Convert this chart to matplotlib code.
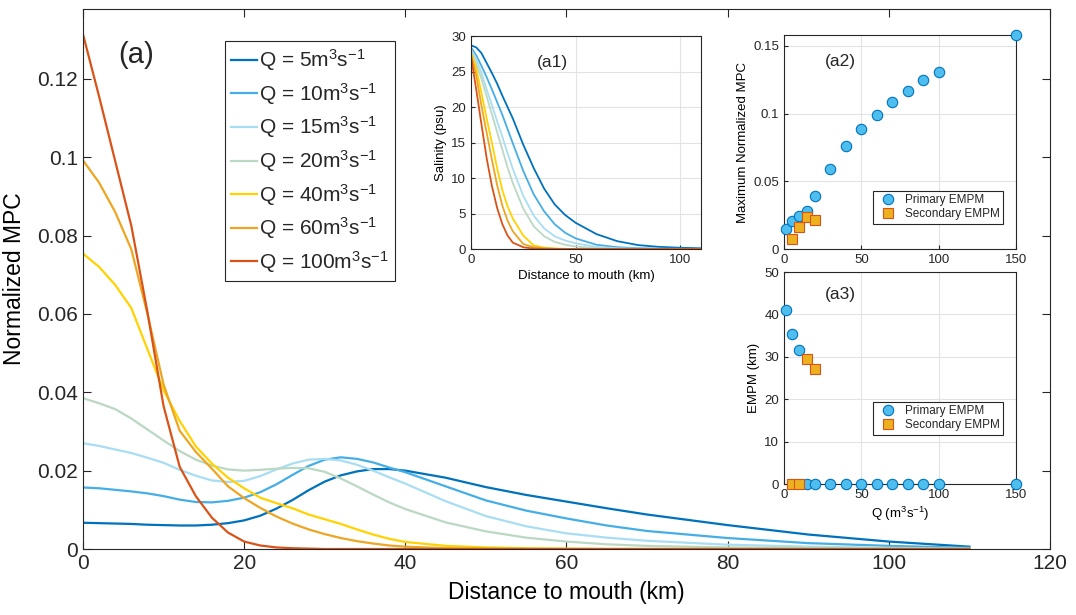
import numpy as np
import matplotlib
matplotlib.use('Agg')
import matplotlib.pyplot as plt

plt.rcParams['font.family'] = ['Liberation Sans', 'DejaVu Sans']
plt.rcParams['mathtext.default'] = 'regular'
plt.rcParams['axes.edgecolor'] = '#262626'
plt.rcParams['xtick.color'] = '#262626'
plt.rcParams['ytick.color'] = '#262626'
plt.rcParams['text.color'] = '#262626'

# ---- main panel: normalized MPC vs distance ----
dist = [0, 2, 4, 6, 8, 10, 12, 14, 16, 18, 20, 22, 24, 26, 28, 30, 32, 34, 36, 38, 40,
        45, 50, 55, 60, 65, 70, 80, 90, 100, 110]
mpc_q5 = [0.0067, 0.0066, 0.0065, 0.0064, 0.0062, 0.0061, 0.0060, 0.0060, 0.0062, 0.0066, 0.0073,
          0.0085, 0.0103, 0.0125, 0.0150, 0.0172, 0.0188, 0.0198, 0.0204, 0.0204, 0.0200,
          0.0182, 0.0158, 0.0138, 0.0121, 0.0104, 0.0088, 0.0061, 0.0037, 0.0019, 0.0006]
mpc_q10 = [0.0157, 0.0155, 0.0151, 0.0147, 0.0142, 0.0135, 0.0126, 0.0120, 0.0119, 0.0123, 0.0131,
           0.0145, 0.0165, 0.0189, 0.0212, 0.0228, 0.0234, 0.0230, 0.0221, 0.0208, 0.0196,
           0.0160, 0.0124, 0.0098, 0.0078, 0.0060, 0.0046, 0.0028, 0.0015, 0.0008, 0.0003]
mpc_q15 = [0.0270, 0.0263, 0.0254, 0.0245, 0.0233, 0.0220, 0.0202, 0.0187, 0.0175, 0.0171, 0.0174,
           0.0186, 0.0203, 0.0218, 0.0228, 0.0230, 0.0226, 0.0215, 0.0200, 0.0183, 0.0167,
           0.0122, 0.0084, 0.0058, 0.0040, 0.0029, 0.0021, 0.0011, 0.0006, 0.0003, 0.0001]
mpc_q20 = [0.0385, 0.0372, 0.0357, 0.0333, 0.0305, 0.0277, 0.0250, 0.0228, 0.0213, 0.0203, 0.0200,
           0.0202, 0.0205, 0.0207, 0.0206, 0.0197, 0.0180, 0.0160, 0.0139, 0.0119, 0.0102,
           0.0068, 0.0045, 0.0029, 0.0019, 0.0012, 0.0008, 0.0004, 0.0002, 0.0001, 0.0]
mpc_q40 = [0.0754, 0.0720, 0.0674, 0.0615, 0.0510, 0.0405, 0.0327, 0.0262, 0.0218, 0.0182, 0.0155,
           0.0131, 0.0117, 0.0104, 0.0088, 0.0076, 0.0064, 0.0050, 0.0037, 0.0026, 0.0018,
           0.0008, 0.0004, 0.0002, 0.0001, 0.0, 0.0, 0.0, 0.0, 0.0, 0.0]
mpc_q60 = [0.0992, 0.0935, 0.0860, 0.0765, 0.0600, 0.0420, 0.0302, 0.0248, 0.0205, 0.0160, 0.0130,
           0.0105, 0.0083, 0.0065, 0.0050, 0.0038, 0.0028, 0.0020, 0.0014, 0.0009, 0.0006,
           0.0002, 0.0001, 0.0, 0.0, 0.0, 0.0, 0.0, 0.0, 0.0, 0.0]
mpc_q100 = [0.1314, 0.1155, 0.0990, 0.0825, 0.0605, 0.0365, 0.0210, 0.0135, 0.0080, 0.0042, 0.0019,
            0.0009, 0.0004, 0.0002, 0.0001, 0.0, 0.0, 0.0, 0.0, 0.0, 0.0,
            0.0, 0.0, 0.0, 0.0, 0.0, 0.0, 0.0, 0.0, 0.0, 0.0]

q_labels = ['5', '10', '15', '20', '40', '60', '100']
colors = ['#0072BD', '#45AEE6', '#A8DDF3', '#BAD8C2', '#FFD200', '#EDA622', '#D95319']
mpc_all = [mpc_q5, mpc_q10, mpc_q15, mpc_q20, mpc_q40, mpc_q60, mpc_q100]

# ---- inset a1: salinity ----
dist_s = [0, 2.5, 5, 7.5, 10, 12.5, 15, 17.5, 20, 25, 30, 35, 40, 45, 50, 60, 70, 80, 90, 100, 110]
sal_q5 = [28.7, 28.4, 27.6, 26.2, 24.8, 23.3, 21.6, 20.0, 18.4, 14.7, 11.4, 8.5, 6.3, 4.8, 3.7,
          2.1, 1.1, 0.55, 0.3, 0.18, 0.1]
sal_q10 = [28.4, 27.3, 25.8, 24.2, 22.5, 20.7, 18.9, 16.9, 14.9, 11.0, 7.7, 5.3, 3.5, 2.3, 1.5,
           0.6, 0.25, 0.12, 0.06, 0.03, 0.02]
sal_q15 = [28.1, 26.8, 24.8, 22.5, 20.3, 18.0, 15.8, 13.5, 11.3, 7.5, 4.7, 2.9, 1.8, 1.2, 0.8,
           0.3, 0.1, 0.05, 0.02, 0.01, 0.0]
sal_q20 = [27.9, 26.1, 24.0, 21.5, 19.0, 16.5, 14.0, 11.5, 9.3, 5.7, 3.2, 1.8, 1.0, 0.6, 0.35,
           0.1, 0.03, 0.0, 0.0, 0.0, 0.0]
sal_q40 = [27.65, 25.5, 22.0, 18.4, 15.0, 11.4, 8.3, 6.0, 4.3, 1.9, 0.5, 0.2, 0.08, 0.03, 0.0,
           0.0, 0.0, 0.0, 0.0, 0.0, 0.0]
sal_q60 = [27.5, 24.5, 20.2, 16.4, 12.6, 9.0, 6.1, 4.0, 2.5, 0.7, 0.25, 0.1, 0.03, 0.0, 0.0,
           0.0, 0.0, 0.0, 0.0, 0.0, 0.0]
sal_q100 = [27.2, 22.5, 17.6, 12.8, 8.9, 5.8, 3.5, 1.9, 0.9, 0.25, 0.05, 0.0, 0.0, 0.0, 0.0,
            0.0, 0.0, 0.0, 0.0, 0.0, 0.0]
sal_all = [sal_q5, sal_q10, sal_q15, sal_q20, sal_q40, sal_q60, sal_q100]

# ---- inset a2/a3: EMPM ----
q_prim = [1, 5, 10, 15, 20, 30, 40, 50, 60, 70, 80, 90, 100, 150]
maxmpc_prim = [0.0150, 0.0209, 0.0241, 0.0278, 0.0389, 0.0593, 0.0757, 0.0885, 0.0993,
               0.1089, 0.1170, 0.1247, 0.1310, 0.1580]
empm_prim = [41.0, 35.4, 31.5, 0, 0, 0, 0, 0, 0, 0, 0, 0, 0, 0]
q_sec = [5, 10, 15, 20]
maxmpc_sec = [0.0071, 0.0162, 0.0234, 0.0211]
empm_sec = [0, 0, 29.4, 27.2]

fig = plt.figure(figsize=(10.76, 6.15), dpi=100)

ax = fig.add_axes([0.0771, 0.1073, 0.8987, 0.878])
for i in range(len(mpc_all)):
    ax.plot(dist, mpc_all[i], color=colors[i], lw=1.6,
            label='Q = ' + q_labels[i] + 'm$^{3}$s$^{-1}$')
ax.set_xlim(0, 120)
ax.set_ylim(0, 0.1378)
ax.set_xticks([0, 20, 40, 60, 80, 100, 120])
ax.set_yticks([0, 0.02, 0.04, 0.06, 0.08, 0.1, 0.12])
ax.set_yticklabels(['0', '0.02', '0.04', '0.06', '0.08', '0.1', '0.12'])
ax.tick_params(direction='in', top=True, right=True, labelsize=15, length=6, width=0.8)
ax.set_xlabel('Distance to mouth (km)', fontsize=16.5, labelpad=6)
ax.set_ylabel('Normalized MPC', fontsize=16.5, labelpad=8)
ax.text(0.037, 0.915, '(a)', transform=ax.transAxes, fontsize=21, va='center', ha='left')
leg = ax.legend(loc='upper left', bbox_to_anchor=(0.147, 0.9407), fontsize=15,
                handlelength=1.25, handletextpad=0.1, labelspacing=0.37,
                borderpad=0.3, fancybox=False, framealpha=1, borderaxespad=0)
leg.get_frame().set_edgecolor('#262626')
leg.get_frame().set_linewidth(0.8)

# inset a1
a1 = fig.add_axes([0.4377, 0.5951, 0.2138, 0.3463])
for i in range(len(sal_all)):
    a1.plot(dist_s, sal_all[i], color=colors[i], lw=1.3)
a1.set_xlim(0, 110)
a1.set_ylim(0, 30)
a1.set_xticks([0, 50, 100])
a1.set_yticks([0, 5, 10, 15, 20, 25, 30])
a1.grid(True, color='#e3e3e3', lw=0.8)
a1.set_axisbelow(True)
a1.tick_params(direction='in', labelsize=9.5, length=3, top=False, right=False)
a1.set_xlabel('Distance to mouth (km)', fontsize=9.5, labelpad=3)
a1.set_ylabel('Salinity (psu)', fontsize=9.5, labelpad=3)
a1.text(39, 26.3, '(a1)', fontsize=12.5, ha='center', va='center')

# inset a2
a2 = fig.add_axes([0.7286, 0.5951, 0.2156, 0.348])
a2.plot(q_prim, maxmpc_prim, 'o', ms=7.5, mfc='#4DBEEE', mec='#0072BD', mew=0.8,
        label='Primary EMPM', clip_on=False, zorder=3)
a2.plot(q_sec, maxmpc_sec, 's', ms=6.5, mfc='#EDB120', mec='#D95319', mew=0.8,
        label='Secondary EMPM', clip_on=False, zorder=3)
a2.set_xlim(0, 150)
a2.set_ylim(0, 0.158)
a2.set_xticks([0, 50, 100, 150])
a2.set_yticks([0, 0.05, 0.1, 0.15])
a2.set_yticklabels(['0', '0.05', '0.1', '0.15'])
a2.grid(True, color='#e3e3e3', lw=0.8)
a2.set_axisbelow(True)
a2.tick_params(direction='in', labelsize=9.5, length=3)
a2.set_ylabel('Maximum Normalized MPC', fontsize=9.5, labelpad=3)
a2.text(36.6, 0.1384, '(a2)', fontsize=12.5, ha='center', va='center')
l2 = a2.legend(loc='lower right', bbox_to_anchor=(0.945, 0.117), fontsize=8.5,
               fancybox=False, framealpha=1, borderaxespad=0, handletextpad=0.4,
               borderpad=0.3, labelspacing=0.2)
l2.get_frame().set_edgecolor('#262626')
l2.get_frame().set_linewidth(0.8)

# inset a3
a3 = fig.add_axes([0.7286, 0.213, 0.2156, 0.3447])
a3.plot(q_prim, empm_prim, 'o', ms=7.5, mfc='#4DBEEE', mec='#0072BD', mew=0.8,
        label='Primary EMPM', clip_on=False, zorder=3)
a3.plot(q_sec, empm_sec, 's', ms=6.5, mfc='#EDB120', mec='#D95319', mew=0.8,
        label='Secondary EMPM', clip_on=False, zorder=3)
a3.set_xlim(0, 150)
a3.set_ylim(0, 50)
a3.set_xticks([0, 50, 100, 150])
a3.set_yticks([0, 10, 20, 30, 40, 50])
a3.grid(True, color='#e3e3e3', lw=0.8)
a3.set_axisbelow(True)
a3.tick_params(direction='in', labelsize=9.5, length=3)
a3.set_xlabel('Q (m$^{3}$s$^{-1}$)', fontsize=9.5, labelpad=3)
a3.set_ylabel('EMPM (km)', fontsize=9.5, labelpad=3)
a3.text(36.6, 44.6, '(a3)', fontsize=12.5, ha='center', va='center')
l3 = a3.legend(loc='lower right', bbox_to_anchor=(0.945, 0.231), fontsize=8.5,
               fancybox=False, framealpha=1, borderaxespad=0, handletextpad=0.4,
               borderpad=0.3, labelspacing=0.2)
l3.get_frame().set_edgecolor('#262626')
l3.get_frame().set_linewidth(0.8)

plt.savefig('out.png', dpi=100)
